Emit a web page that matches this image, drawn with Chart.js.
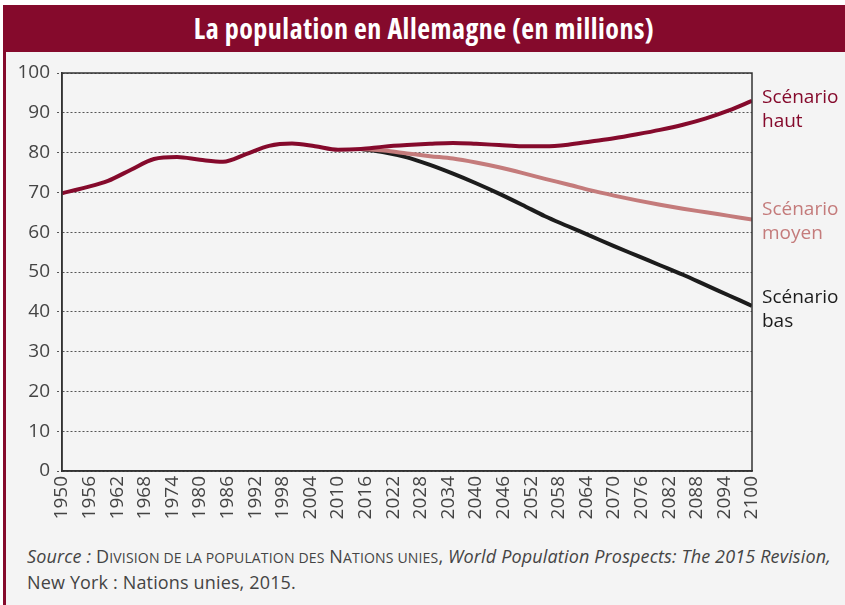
<!DOCTYPE html>
<html>
<head>
<meta charset="utf-8">
<script src="https://cdn.jsdelivr.net/npm/chart.js@4"></script>
<style>
  html, body { margin: 0; padding: 0; background: #fff; }
  body { width: 845px; height: 605px; position: relative; overflow: hidden; }
  .frame { position: absolute; left: 3px; top: 5px; width: 842px; height: 600px; background: #f4f4f4; border-left: 3px solid #850a2c; box-sizing: border-box; }
  .title { position: absolute; left: 3px; top: 5px; width: 842px; height: 47px; background: #850a2c; color: #fff;
    font-family: "Liberation Sans Narrow", "Open Sans", sans-serif; font-stretch: condensed; font-weight: bold; font-size: 28px;
    letter-spacing: 0.5px; line-height: 47px; text-align: center; }
  .plot { position: absolute; left: 0; top: 53px; width: 845px; height: 482px; }
  .source { position: absolute; left: 27px; top: 544px; width: 818px; color: #444; white-space: nowrap;
    font-family: "Open Sans", sans-serif; font-size: 18px; line-height: 24px; letter-spacing: 0.15px; }
  .source .sc { font-size: 0.78em; text-transform: uppercase; }
</style>
</head>
<body>
<div class="frame"></div>
<div class="title">La population en Allemagne (en millions)</div>
<div class="plot"><canvas id="chart"></canvas></div>
<div class="source"><i>Source :</i> D<span class="sc">ivision de la population des</span> N<span class="sc">ations unies</span>, <i>World Population Prospects: The 2015 Revision,</i><br>New York : Nations unies, 2015.</div>

<script>
// Population data (millions)
const histYears = [1950, 1955, 1960, 1965, 1970, 1975, 1980, 1985, 1990, 1995, 2000, 2005, 2010, 2015];
const histValues = [69.8, 71.2, 72.9, 75.7, 78.4, 78.9, 78.2, 77.7, 79.6, 81.7, 82.3, 81.6, 80.7, 80.9];

const projYears = [2015, 2020, 2025, 2030, 2035, 2040, 2045, 2050, 2055, 2060, 2065, 2070, 2075, 2080, 2085, 2090, 2095, 2100];
const hautValues = [80.9, 81.5, 81.9, 82.2, 82.4, 82.2, 81.9, 81.6, 81.6, 82.0, 82.8, 83.6, 84.6, 85.7, 87.0, 88.6, 90.6, 93.0];
const moyenValues = [80.9, 80.5, 79.8, 79.1, 78.5, 77.5, 76.3, 74.9, 73.4, 72.0, 70.5, 69.2, 68.0, 66.9, 65.9, 65.0, 64.1, 63.2];
const basValues = [80.9, 80.1, 78.8, 76.9, 74.7, 72.3, 69.7, 66.9, 64.0, 61.5, 59.0, 56.5, 54.1, 51.7, 49.3, 46.7, 44.1, 41.5];

const seriesLabels = [['Scénario', 'haut'], ['Scénario', 'moyen'], ['Scénario', 'bas']];
const seriesColors = ['#850a2c', '#c47b7b', '#1c1c1c'];
const labelNudge = [-3, -10, -8];

function toPoints(years, values) {
    return years.map((y, i) => ({ x: y, y: values[i] }));
}

// haut continues the historical line
const hautPoints = toPoints(histYears, histValues).concat(toPoints(projYears.slice(1), hautValues.slice(1)));

const font = '"Open Sans", sans-serif';

// frame around the plot area
const boxPlugin = {
    id: 'box',
    afterDraw(chart) {
        const { ctx, chartArea: a } = chart;
        ctx.save();
        ctx.strokeStyle = '#333';
        ctx.lineWidth = 1.5;
        ctx.strokeRect(a.left, a.top, a.right - a.left, a.bottom - a.top);
        ctx.restore();
    }
};

// scenario labels at the end of each line
const endLabels = {
    id: 'endLabels',
    afterDatasetsDraw(chart) {
        const ctx = chart.ctx;
        ctx.save();
        ctx.font = '19px ' + font;
        ctx.textBaseline = 'middle';
        ctx.textAlign = 'left';
        chart.data.datasets.forEach((ds, i) => {
            const meta = chart.getDatasetMeta(i);
            const last = meta.data[meta.data.length - 1];
            const x = chart.chartArea.right + 10;
            const y = last.y + labelNudge[i];
            ctx.fillStyle = ds.borderColor;
            ds.endText.forEach((t, k) => ctx.fillText(t, x, y + k * 24));
        });
        ctx.restore();
    }
};

const ctx = document.getElementById('chart');
new Chart(ctx, {
    type: 'line',
    data: {
        datasets: [
            { data: hautPoints, borderColor: seriesColors[0], endText: seriesLabels[0] },
            { data: toPoints(projYears, moyenValues), borderColor: seriesColors[1], endText: seriesLabels[1] },
            { data: toPoints(projYears, basValues), borderColor: seriesColors[2], endText: seriesLabels[2] }
        ].map(d => Object.assign(d, {
            borderWidth: 4,
            pointRadius: 0,
            cubicInterpolationMode: 'monotone',
            fill: false
        }))
    },
    options: {
        responsive: true,
        maintainAspectRatio: false,
        animation: false,
        layout: { padding: { top: 20, right: 93, left: 0, bottom: 0 } },
        plugins: {
            legend: { display: false },
            tooltip: { enabled: false }
        },
        scales: {
            x: {
                type: 'linear',
                min: 1950,
                max: 2100,
                grid: { display: false, drawTicks: false },
                border: { display: true, color: '#333', width: 1.5 },
                ticks: {
                    stepSize: 6,
                    autoSkip: false,
                    maxRotation: 90,
                    minRotation: 90,
                    padding: 5,
                    color: '#444',
                    font: { family: font, size: 19 },
                    callback: v => String(v)
                },
                afterFit: s => { s.height = 64; }
            },
            y: {
                min: 0,
                max: 100,
                grid: {
                    color: '#555',
                    lineWidth: 1,
                    tickLength: 5,
                    tickBorderDash: [2, 2]
                },
                border: { display: true, color: '#333', width: 1.5, dash: [2, 2] },
                ticks: {
                    stepSize: 10,
                    padding: 7,
                    color: '#444',
                    font: { family: font, size: 19 }
                },
                afterFit: s => { s.width = 62; }
            }
        }
    },
    plugins: [boxPlugin, endLabels]
});
</script>
</body>
</html>
